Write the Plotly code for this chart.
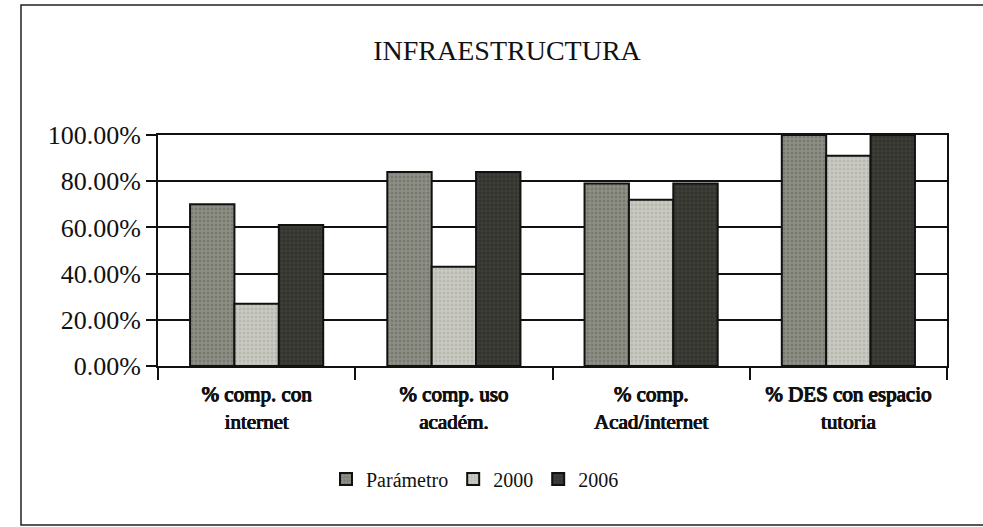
import plotly.graph_objects as go

# Infrastructure indicators by category
categories = [
    "% comp. con<br>internet",
    "% comp. uso<br>académ.",
    "% comp.<br>Acad/internet",
    "% DES con espacio<br>tutoria",
]
parametro = [0.70, 0.84, 0.79, 1.00]
anio_2000 = [0.27, 0.43, 0.72, 0.91]
anio_2006 = [0.61, 0.84, 0.79, 1.00]

series = [
    ("Parámetro", parametro, "#8e8f86", "#62635b"),
    ("2000", anio_2000, "#c9cac2", "#a3a49c"),
    ("2006", anio_2006, "#3d3e38", "#24251f"),
]

serif = "Liberation Serif"

fig = go.Figure()
for name, vals, bg, fg in series:
    fig.add_trace(go.Bar(
        name=name,
        x=categories,
        y=vals,
        marker=dict(
            color=bg,
            line=dict(color="#111111", width=2),
            pattern=dict(shape=".", bgcolor=bg, fgcolor=fg, size=4, solidity=0.4),
        ),
    ))

# plot-area geometry in pixels, used to place the outer frame
L, R, T, B = 158, 36, 135, 161
W, H = 983 - L - R, 527 - T - B

def px_x(px):
    return (px - L) / W

def px_y(py):
    return (527 - B - py) / H

fig.update_layout(
    width=983,
    height=527,
    margin=dict(l=L, r=R, t=T, b=B),
    paper_bgcolor="white",
    plot_bgcolor="white",
    barmode="group",
    bargap=0.325,
    bargroupgap=0.0,
    font=dict(family=serif, color="#111111"),
    title=dict(
        text="INFRAESTRUCTURA",
        font=dict(family=serif, size=28, color="#111111"),
        xref="container", x=507 / 983, xanchor="center",
        yref="container", y=1 - 50 / 527, yanchor="middle",
    ),
    legend=dict(
        orientation="h",
        xanchor="center", x=px_x(475),
        yanchor="middle", y=px_y(479),
        font=dict(family=serif, size=20, color="#111111"),
        itemwidth=30,
        bgcolor="rgba(0,0,0,0)",
    ),
    showlegend=True,
    shapes=[
        dict(
            type="rect", xref="paper", yref="paper",
            x0=px_x(21), x1=px_x(1300), y0=px_y(525), y1=px_y(5),
            line=dict(color="#222222", width=1.5), fillcolor="rgba(0,0,0,0)",
            layer="below",
        )
    ],
)

fig.update_yaxes(
    range=[0, 1],
    dtick=0.2,
    tickformat=".2%",
    showgrid=True,
    gridcolor="#111111",
    gridwidth=2,
    showline=True,
    linecolor="#111111",
    linewidth=2,
    mirror=True,
    ticks="outside",
    ticklen=10,
    tickwidth=2,
    tickcolor="#111111",
    tickfont=dict(family=serif, size=26, color="#111111"),
    zeroline=False,
)
# heavy serif category labels: regular face thickened with a tight text shadow
fig.update_xaxes(
    showline=True,
    linecolor="#111111",
    linewidth=2,
    mirror=True,
    ticks="outside",
    tickson="boundaries",
    ticklen=12,
    tickwidth=2,
    tickcolor="#111111",
    ticklabelstandoff=8,
    tickfont=dict(
        family=serif, size=21, color="#111111",
        shadow="0.7px 0 0 #111111, -0.4px 0 0 #111111, 0 0.4px 0 #111111",
    ),
    showgrid=False,
)

fig.write_html("out.html")
